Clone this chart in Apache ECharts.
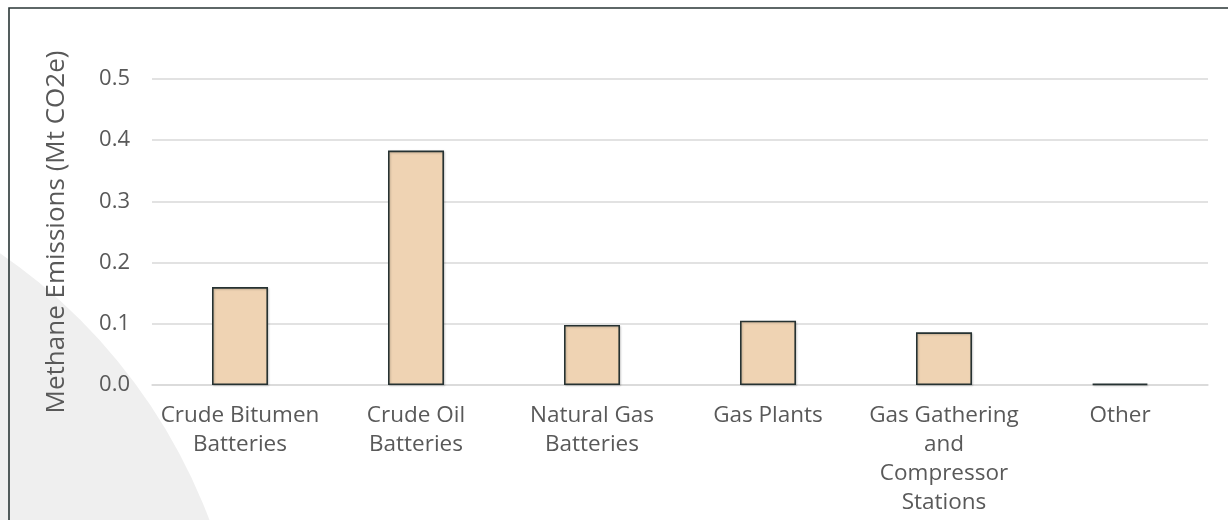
<!DOCTYPE html>
<html>
<head>
<meta charset="utf-8">
<script src="https://cdn.jsdelivr.net/npm/echarts@6/dist/echarts.min.js"></script>
<style>
  html, body { margin: 0; padding: 0; background: #ffffff; }
  #chart { width: 1228px; height: 520px; }
</style>
</head>
<body>
<div id="chart"></div>
<script>
// Methane emissions by facility type (Mt CO2e)
const categories = [
  'Crude Bitumen\nBatteries',
  'Crude Oil\nBatteries',
  'Natural Gas\nBatteries',
  'Gas Plants',
  'Gas Gathering\nand\nCompressor\nStations',
  'Other'
];
const emissions = [0.160, 0.383, 0.098, 0.105, 0.086, 0.002];
const yTicks = { min: 0, max: 0.5, interval: 0.1 };
const yAxisTitle = 'Methane Emissions (Mt CO2e)';

const fontFamily = '"Open Sans", "DejaVu Sans", sans-serif';
const chart = echarts.init(document.getElementById('chart'), null, { renderer: 'canvas' });

chart.setOption({
  animation: false,
  backgroundColor: '#ffffff',
  graphic: [
    {
      type: 'circle',
      shape: { cx: -320, cy: 720, r: 566 },
      style: { fill: '#efefef' },
      z: -10,
      silent: true
    },
    {
      type: 'rect',
      shape: { x: 9, y: 8, width: 1400, height: 700 },
      style: { fill: 'none', stroke: '#2a3636', lineWidth: 1.6 },
      z: -5,
      silent: true
    }
  ],
  grid: { left: 152, right: 20, top: 79, bottom: 135, containLabel: false },
  xAxis: {
    type: 'category',
    data: categories,
    axisLine: { show: true, lineStyle: { color: '#d9d9d9', width: 1.5 } },
    axisTick: { show: false },
    axisLabel: {
      interval: 0,
      margin: 16,
      color: '#595959',
      fontFamily: fontFamily,
      fontSize: 22.5,
      lineHeight: 29
    }
  },
  yAxis: {
    type: 'value',
    min: yTicks.min,
    max: yTicks.max,
    interval: yTicks.interval,
    name: yAxisTitle,
    nameLocation: 'middle',
    nameGap: 82,
    nameTextStyle: { color: '#595959', fontFamily: fontFamily, fontSize: 26 },
    axisLine: { show: false },
    axisTick: { show: false },
    splitLine: { lineStyle: { color: '#d9d9d9', width: 1.5 } },
    axisLabel: {
      margin: 22,
      color: '#595959',
      fontFamily: fontFamily,
      fontSize: 22,
      formatter: v => v.toFixed(1)
    }
  },
  series: [{
    type: 'bar',
    data: emissions,
    barWidth: 56,
    itemStyle: {
      color: '#efd3b3',
      borderColor: '#263232',
      borderWidth: 1.6,
      shadowColor: 'rgba(0,0,0,0.18)',
      shadowBlur: 2,
      shadowOffsetX: 1,
      shadowOffsetY: 1
    }
  }]
});
</script>
</body>
</html>
